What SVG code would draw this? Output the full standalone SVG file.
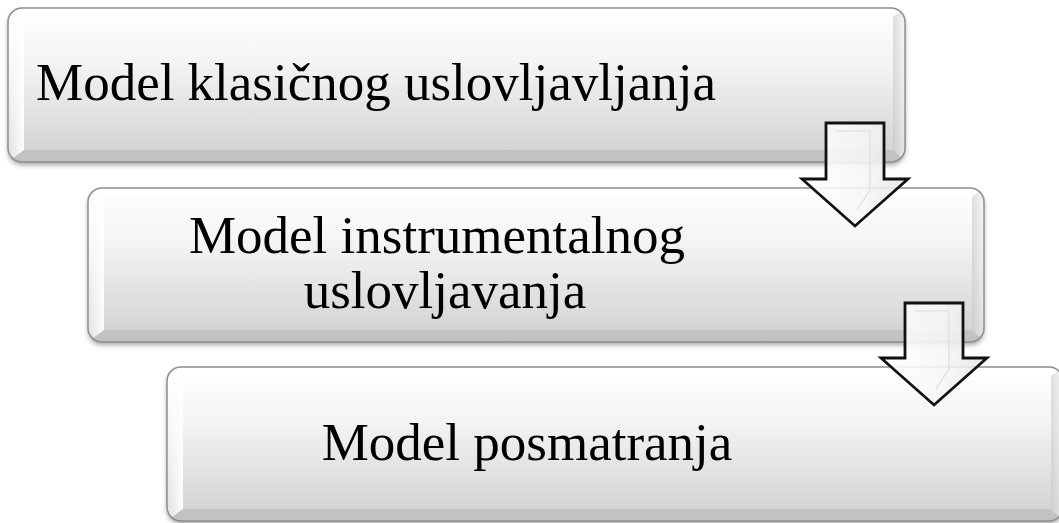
<svg xmlns="http://www.w3.org/2000/svg" width="1059" height="523" viewBox="0 0 1059 523">
<defs>
<linearGradient id="face" x1="0" y1="0" x2="0" y2="1">
<stop offset="0" stop-color="#ffffff"/>
<stop offset="0.35" stop-color="#f4f4f4"/>
<stop offset="1" stop-color="#d0d0d0"/>
</linearGradient>
<linearGradient id="leftBev" x1="0" y1="0" x2="1" y2="0">
<stop offset="0" stop-color="#ffffff" stop-opacity="0.3"/>
<stop offset="1" stop-color="#ffffff" stop-opacity="0.95"/>
</linearGradient>
<linearGradient id="rightBev" x1="0" y1="0" x2="1" y2="0">
<stop offset="0" stop-color="#c8c8c8" stop-opacity="0.6"/>
<stop offset="1" stop-color="#f2f2f2" stop-opacity="0.6"/>
</linearGradient>
<linearGradient id="arrowFill" x1="0" y1="0" x2="1" y2="0">
<stop offset="0" stop-color="#ffffff"/>
<stop offset="0.6" stop-color="#f6f6f6"/>
<stop offset="1" stop-color="#e4e4e4"/>
</linearGradient>
<filter id="shadow" x="-5%" y="-10%" width="110%" height="125%">
<feDropShadow dx="0" dy="3" stdDeviation="2.5" flood-color="#000" flood-opacity="0.35"/>
</filter>
<clipPath id="c1"><rect x="8" y="8" width="897" height="154" rx="14"/></clipPath>
<clipPath id="c2"><rect x="88" y="188" width="896" height="154" rx="14"/></clipPath>
<clipPath id="c3"><rect x="167" y="367" width="896" height="154" rx="14"/></clipPath>
</defs>
<style>
.box{fill:url(#face);filter:url(#shadow)}
.edge{fill:none;stroke:#8f8f8f;stroke-width:1.5}
.top{fill:#ffffff;opacity:0.75}
.left{fill:url(#leftBev)}
.right{fill:url(#rightBev)}
.bot{fill:#b8b8b8;opacity:0.6}
.lbl{font-family:"Liberation Serif","Times New Roman",serif;font-size:53px;fill:#000}
.arrow{fill:url(#arrowFill);fill-opacity:0.88;stroke:#111;stroke-width:2.8;stroke-linejoin:miter}
.abev{fill:none;stroke:#dedede;stroke-width:1.2}
</style>
<g id="node1">
<rect class="box" x="8" y="8" width="897" height="154" rx="14"/>
<g clip-path="url(#c1)">
<polygon class="top" points="8,8 905,8 893,17 24,17"/>
<polygon class="left" points="8,8 24,17 24,150 8,162"/>
<polygon class="right" points="905,8 893,17 893,150 905,162"/>
<polygon class="bot" points="8,162 24,150 893,150 905,162"/>
</g>
<rect class="edge" x="8" y="8" width="897" height="154" rx="14"/>
<text class="lbl" x="36" y="100">Model klasičnog uslovljavljanja</text>
</g>
<g id="node2">
<rect class="box" x="88" y="188" width="896" height="154" rx="14"/>
<g clip-path="url(#c2)">
<polygon class="top" points="88,188 984,188 972,197 104,197"/>
<polygon class="left" points="88,188 104,197 104,330 88,342"/>
<polygon class="right" points="984,188 972,197 972,330 984,342"/>
<polygon class="bot" points="88,342 104,330 972,330 984,342"/>
</g>
<rect class="edge" x="88" y="188" width="896" height="154" rx="14"/>
<text class="lbl" x="437" y="253" text-anchor="middle">Model instrumentalnog</text>
<text class="lbl" x="445" y="308" text-anchor="middle">uslovljavanja</text>
</g>
<g id="node3">
<rect class="box" x="167" y="367" width="896" height="154" rx="14"/>
<g clip-path="url(#c3)">
<polygon class="top" points="167,367 1063,367 1051,376 183,376"/>
<polygon class="left" points="167,367 183,376 183,509 167,521"/>
<polygon class="right" points="1063,367 1051,376 1051,509 1063,521"/>
<polygon class="bot" points="167,521 183,509 1051,509 1063,521"/>
</g>
<rect class="edge" x="167" y="367" width="896" height="154" rx="14"/>
<text class="lbl" x="527" y="460" text-anchor="middle">Model posmatranja</text>
</g>
<g id="connectors">
<g id="arrow1">
<polygon class="arrow" points="826,123 884,123 884,179 908,179 855,226 802,179 826,179"/>
<polyline class="abev" points="835,131 870,131 870,190 857,210"/>
</g>
<g id="arrow2">
<polygon class="arrow" points="905,303 963,303 963,358 987,358 934,405 881,358 905,358"/>
<polyline class="abev" points="914,311 949,311 949,369 936,389"/>
</g>
</g>
</svg>
